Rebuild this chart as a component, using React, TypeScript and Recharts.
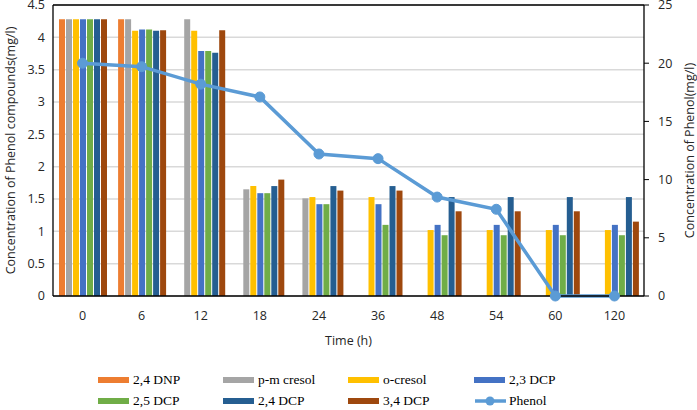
import {
  Bar,
  CartesianGrid,
  ComposedChart,
  Line,
  ReferenceLine,
  XAxis,
  YAxis,
} from "recharts";

const times = ["0", "6", "12", "18", "24", "36", "48", "54", "60", "120"];

const dnp24 = [4.28, 4.28, null, null, null, null, null, null, null, null];
const pmCresol = [4.28, 4.28, 4.28, 1.65, 1.51, null, null, null, null, null];
const oCresol = [4.28, 4.1, 4.1, 1.7, 1.53, 1.53, 1.02, 1.02, 1.02, 1.02];
const dcp23 = [4.28, 4.12, 3.79, 1.59, 1.42, 1.42, 1.1, 1.1, 1.1, 1.1];
const dcp25 = [4.28, 4.12, 3.79, 1.59, 1.42, 1.1, 0.94, 0.94, 0.94, 0.94];
const dcp24 = [4.28, 4.1, 3.76, 1.7, 1.7, 1.7, 1.53, 1.53, 1.53, 1.53];
const dcp34 = [4.28, 4.11, 4.11, 1.8, 1.63, 1.63, 1.31, 1.31, 1.31, 1.15];
const phenol = [20.0, 19.7, 18.2, 17.1, 12.2, 11.8, 8.5, 7.45, 0, 0];

const leftTicks = [0, 0.5, 1, 1.5, 2, 2.5, 3, 3.5, 4, 4.5];
const rightTicks = [0, 5, 10, 15, 20, 25];

const barSeries = [
  { key: "2,4 DNP", values: dnp24, color: "#ED7D31" },
  { key: "p-m cresol", values: pmCresol, color: "#A5A5A5" },
  { key: "o-cresol", values: oCresol, color: "#FFC000" },
  { key: "2,3 DCP", values: dcp23, color: "#4472C4" },
  { key: "2,5 DCP", values: dcp25, color: "#70AD47" },
  { key: "2,4 DCP", values: dcp24, color: "#255E91" },
  { key: "3,4 DCP", values: dcp34, color: "#9E480E" },
];

const phenolColor = "#5B9BD5";

const chartData = times.map((t, i) => {
  const row: Record<string, string | number | null> = { time: t, Phenol: phenol[i] };
  barSeries.forEach((s) => {
    row[s.key] = s.values[i];
  });
  return row;
});

const sansFont = "'Open Sans', 'Liberation Sans', sans-serif";

function AxisTitle({ viewBox, text, dx }: any) {
  const cx = viewBox.x + dx;
  const cy = viewBox.y + viewBox.height / 2;
  return (
    <text
      x={cx}
      y={cy}
      transform={`rotate(-90 ${cx} ${cy})`}
      textAnchor="middle"
      dominantBaseline="central"
      fontSize={12.5}
      fill="#262626"
      fontFamily={sansFont}
    >
      {text}
    </text>
  );
}

function ChartLegend() {
  const items = [
    ...barSeries.map((s) => ({ label: s.key, color: s.color, line: false })),
    { label: "Phenol", color: phenolColor, line: true },
  ];
  return (
    <div
      style={{
        position: "absolute",
        left: 98,
        top: 370,
        width: 520,
        display: "grid",
        gridTemplateColumns: "125px 125px 126px 126px",
        rowGap: 2,
        fontFamily: "'Liberation Serif', 'Times New Roman', serif",
        fontSize: 13.5,
        color: "#000",
      }}
    >
      {items.map((it) => (
        <div key={it.label} style={{ display: "flex", alignItems: "center", height: 19 }}>
          <svg width={33} height={12} style={{ marginRight: 2 }}>
            {it.line ? (
              <>
                <line x1={1} y1={6} x2={32} y2={6} stroke={it.color} strokeWidth={3.5} />
                <circle cx={16} cy={6} r={4.5} fill={it.color} />
              </>
            ) : (
              <rect x={0} y={3} width={31} height={6} fill={it.color} />
            )}
          </svg>
          <span>{it.label}</span>
        </div>
      ))}
    </div>
  );
}

export default function App() {
  return (
    <div style={{ position: "absolute", left: 0, top: 0, width: 697, height: 410, background: "#fff" }}>
      <ComposedChart
        width={697}
        height={410}
        data={chartData}
        margin={{ top: 5, right: 0, left: 0, bottom: 62 }}
        barGap={1}
        barCategoryGap={6}
      >
        <CartesianGrid
          yAxisId="left"
          vertical={false}
          stroke="#d9d9d9"
          strokeWidth={1.5}
        />
        <XAxis
          dataKey="time"
          height={52}
          tickLine={false}
          tickSize={0}
          tickMargin={15}
          axisLine={{ stroke: "#000", strokeWidth: 1.3 }}
          tick={{ fill: "#262626", fontSize: 12.5, fontFamily: sansFont }}
          label={{
            value: "Time (h)",
            position: "insideBottom",
            offset: 3,
            fill: "#262626",
            fontSize: 12.5,
            fontFamily: sansFont,
          }}
        />
        <YAxis
          yAxisId="left"
          width={53}
          domain={[0, 4.5]}
          ticks={leftTicks}
          interval={0}
          tickLine={false}
          axisLine={{ stroke: "#000", strokeWidth: 1.3 }}
          tick={{ fill: "#262626", fontSize: 12.5, fontFamily: sansFont }}
          label={<AxisTitle text="Concentration of Phenol compounds(mg/l)" dx={10} />}
        />
        <YAxis
          yAxisId="right"
          orientation="right"
          width={53}
          domain={[0, 25]}
          ticks={rightTicks}
          interval={0}
          tickSize={5}
          tickMargin={9}
          tickLine={{ stroke: "#000" }}
          axisLine={{ stroke: "#000", strokeWidth: 1.3 }}
          tick={{ fill: "#262626", fontSize: 12.5, fontFamily: sansFont, textAnchor: "start" }}
          label={<AxisTitle text="Concentration of Phenol(mg/l)" dx={45} />}
        />
        <ReferenceLine yAxisId="left" y={4.5} stroke="#000" strokeWidth={1.3} />
        {barSeries.map((s) => (
          <Bar
            key={s.key}
            yAxisId="left"
            dataKey={s.key}
            fill={s.color}
            isAnimationActive={false}
          />
        ))}
        <Line
          yAxisId="right"
          dataKey="Phenol"
          stroke={phenolColor}
          strokeWidth={3.5}
          dot={{ r: 5, fill: phenolColor, stroke: phenolColor, strokeWidth: 1 }}
          activeDot={false}
          isAnimationActive={false}
        />
      </ComposedChart>
      <ChartLegend />
    </div>
  );
}
